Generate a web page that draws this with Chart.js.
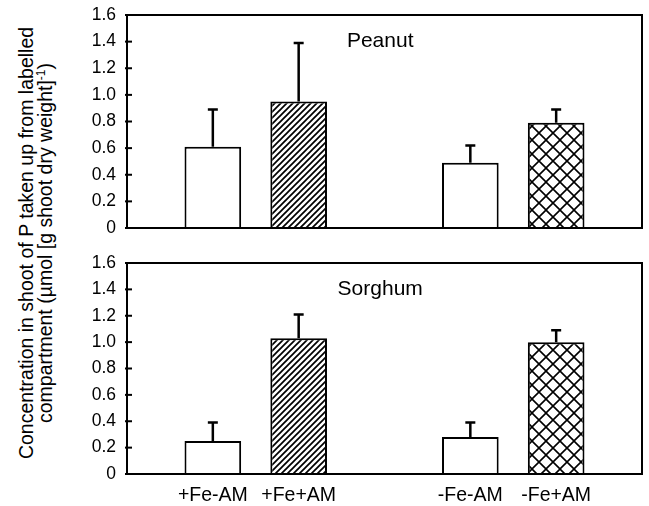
<!DOCTYPE html>
<html>
<head>
<meta charset="utf-8">
<script src="https://cdn.jsdelivr.net/npm/chart.js@4"></script>
<style>
  body { margin: 0; background: #fff; }
  #wrap { position: relative; width: 649px; height: 506px; font-family: "Liberation Sans", Arial, sans-serif; }
  #c1 { position: absolute; left: 0; top: 0; }
  #c2 { position: absolute; left: 0; top: 245px; }
  #ytitle {
    position: absolute; left: 36px; top: 243px;
    transform: translate(-50%, -50%) rotate(-90deg);
    white-space: nowrap; text-align: center;
    font-size: 19.5px; line-height: 19px; color: #000;
  }
  #ytitle sup { font-size: 12px; line-height: 0; }
</style>
</head>
<body>
<div id="wrap">
  <div id="ytitle">Concentration in shoot of P taken up from labelled<br>compartment (µmol [g shoot dry weight]<sup>-1</sup>)</div>
  <canvas id="c1" width="649" height="245"></canvas>
  <canvas id="c2" width="649" height="261"></canvas>
</div>
<script>
// Data
const categories = ['+Fe-AM', '+Fe+AM', '-Fe-AM', '-Fe+AM'];
const peanutMean = [0.61, 0.95, 0.49, 0.79];
const peanutSE = [0.28, 0.44, 0.13, 0.10];
const sorghumMean = [0.25, 1.03, 0.28, 1.00];
const sorghumSE = [0.14, 0.18, 0.11, 0.09];
const yTicks = [0, 0.2, 0.4, 0.6, 0.8, 1.0, 1.2, 1.4, 1.6];

// empty slots between/around the two groups
const slots = [null, 0, 1, null, 2, 3, null];

const FONT = '"Liberation Sans", Arial, sans-serif';

// fill patterns
function hatchPattern() {
  const c = document.createElement('canvas');
  c.width = 6; c.height = 6;
  const g = c.getContext('2d');
  g.fillStyle = '#fff';
  g.fillRect(0, 0, 6, 6);
  g.strokeStyle = '#000';
  g.lineWidth = 1.7;
  g.beginPath();
  g.moveTo(0, 6); g.lineTo(6, 0);
  g.moveTo(-1, 1); g.lineTo(1, -1);
  g.moveTo(5, 7); g.lineTo(7, 5);
  g.stroke();
  return g.createPattern(c, 'repeat');
}
function crossPattern() {
  const c = document.createElement('canvas');
  c.width = 14; c.height = 14;
  const g = c.getContext('2d');
  g.fillStyle = '#fff';
  g.fillRect(0, 0, 14, 14);
  g.strokeStyle = '#000';
  g.lineWidth = 1.6;
  g.beginPath();
  g.moveTo(0, 0); g.lineTo(14, 14);
  g.moveTo(0, 14); g.lineTo(14, 0);
  g.stroke();
  return g.createPattern(c, 'repeat');
}
const fills = ['#fff', hatchPattern(), '#fff', crossPattern()];

// plugins
const frame = {
  id: 'frame',
  afterDraw(chart) {
    const a = chart.chartArea, ctx = chart.ctx;
    const y = chart.scales.y;
    ctx.save();
    ctx.strokeStyle = '#000';
    ctx.lineWidth = 2;
    ctx.strokeRect(a.left, a.top, a.right - a.left, a.bottom - a.top);
    y.ticks.forEach(t => {
      const py = y.getPixelForValue(t.value);
      ctx.beginPath();
      ctx.moveTo(a.left - 2, py);
      ctx.lineTo(a.left + 5, py);
      ctx.stroke();
    });
    ctx.restore();
  }
};

const errorBars = {
  id: 'errorBars',
  afterDatasetsDraw(chart) {
    const ctx = chart.ctx;
    const y = chart.scales.y;
    const meta = chart.getDatasetMeta(0);
    const ds = chart.data.datasets[0];
    ctx.save();
    ctx.strokeStyle = '#000';
    ctx.lineWidth = 2.5;
    meta.data.forEach((bar, i) => {
      const v = ds.data[i], e = ds.err[i];
      if (v == null) return;
      const top = y.getPixelForValue(v + e);
      ctx.beginPath();
      ctx.moveTo(bar.x, bar.y);
      ctx.lineTo(bar.x, top);
      ctx.moveTo(bar.x - 5, top);
      ctx.lineTo(bar.x + 5, top);
      ctx.stroke();
    });
    ctx.restore();
  }
};

const panelLabel = {
  id: 'panelLabel',
  afterDraw(chart, args, opts) {
    const ctx = chart.ctx;
    ctx.save();
    ctx.fillStyle = '#000';
    ctx.font = '21px ' + FONT;
    ctx.textAlign = 'center';
    ctx.textBaseline = 'middle';
    ctx.fillText(opts.text, chart.scales.x.getPixelForValue(opts.at), chart.scales.y.getPixelForValue(1.4));
    ctx.restore();
  }
};

function makeChart(id, name, mean, se, showLabels, padding) {
  const ctx = document.getElementById(id).getContext('2d');
  return new Chart(ctx, {
    type: 'bar',
    data: {
      labels: slots.map(s => s === null ? '' : categories[s]),
      datasets: [{
        data: slots.map(s => s === null ? null : mean[s]),
        err: slots.map(s => s === null ? null : se[s]),
        backgroundColor: slots.map(s => s === null ? '#fff' : fills[s]),
        borderColor: '#000',
        borderWidth: 2,
        borderSkipped: 'bottom',
        barPercentage: 0.66,
        categoryPercentage: 1
      }]
    },
    options: {
      responsive: false,
      animation: false,
      layout: { padding: padding },
      scales: {
        x: {
          offset: false,
          grid: { display: false, drawTicks: false },
          border: { display: false },
          ticks: {
            display: showLabels,
            color: '#000',
            padding: 10,
            maxRotation: 0,
            autoSkip: false,
            font: { family: FONT, size: 19.5 }
          },
          afterFit: s => {
            s.height = showLabels ? 32 : 0;
            s.paddingLeft = 0; s.paddingRight = 0;
          }
        },
        y: {
          min: 0,
          max: 1.6,
          grid: { display: false, drawTicks: false },
          border: { display: false },
          afterBuildTicks: s => { s.ticks = yTicks.map(v => ({ value: v })); },
          ticks: {
            color: '#000',
            padding: 11,
            callback: v => v === 0 ? '0' : v.toFixed(1),
            font: { family: FONT, size: 17.5 }
          },
          afterFit: s => {
            s.width = 45;
            s.paddingTop = 0; s.paddingBottom = 0;
          }
        }
      },
      plugins: {
        legend: { display: false },
        tooltip: { enabled: false },
        panelLabel: { text: name, at: 2.95 }
      }
    },
    plugins: [errorBars, frame, panelLabel]
  });
}

makeChart('c1', 'Peanut', peanutMean, peanutSE, false, { left: 82, right: 7, top: 15, bottom: 17 });
makeChart('c2', 'Sorghum', sorghumMean, sorghumSE, true, { left: 82, right: 7, top: 18, bottom: 0 });
</script>
</body>
</html>
